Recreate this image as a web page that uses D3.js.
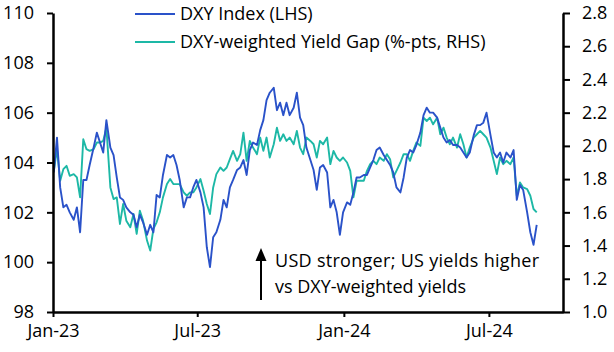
<!DOCTYPE html>
<html>
<head>
<meta charset="utf-8">
<script src="https://cdn.jsdelivr.net/npm/d3@7"></script>
<style>
  body { margin: 0; background: #fff; }
  svg text { font-family: "Open Sans", "Noto Sans", sans-serif; fill: #000; }
</style>
</head>
<body>
<svg width="614" height="352"></svg>
<script>
// observation dates (roughly every 4 days)
const dates = [
  "2023-01-02","2023-01-06","2023-01-10","2023-01-14","2023-01-18","2023-01-22","2023-01-27","2023-01-31",
  "2023-02-04","2023-02-08","2023-02-12","2023-02-16","2023-02-21","2023-02-25","2023-03-01","2023-03-05",
  "2023-03-09","2023-03-14","2023-03-18","2023-03-22","2023-03-26","2023-03-30","2023-04-03","2023-04-08",
  "2023-04-12","2023-04-16","2023-04-20","2023-04-24","2023-04-29","2023-05-03","2023-05-07","2023-05-11",
  "2023-05-15","2023-05-19","2023-05-24","2023-05-28","2023-06-01","2023-06-05","2023-06-09","2023-06-14",
  "2023-06-18","2023-06-22","2023-06-26","2023-06-30","2023-07-05","2023-07-09","2023-07-13","2023-07-17",
  "2023-07-21","2023-07-25","2023-07-30","2023-08-03","2023-08-07","2023-08-11","2023-08-15","2023-08-20",
  "2023-08-24","2023-08-28","2023-09-01","2023-09-05","2023-09-09","2023-09-14","2023-09-18","2023-09-22",
  "2023-09-26","2023-09-30","2023-10-05","2023-10-09","2023-10-13","2023-10-17","2023-10-21","2023-10-25",
  "2023-10-30","2023-11-03","2023-11-07","2023-11-11","2023-11-15","2023-11-20","2023-11-24","2023-11-28",
  "2023-12-02","2023-12-06","2023-12-11","2023-12-15","2023-12-19","2023-12-23","2023-12-27","2023-12-31",
  "2024-01-05","2024-01-09","2024-01-13","2024-01-17","2024-01-21","2024-01-26","2024-01-30","2024-02-03",
  "2024-02-07","2024-02-11","2024-02-15","2024-02-20","2024-02-24","2024-02-28","2024-03-03","2024-03-07",
  "2024-03-12","2024-03-16","2024-03-20","2024-03-24","2024-03-28","2024-04-01","2024-04-06","2024-04-10",
  "2024-04-14","2024-04-18","2024-04-22","2024-04-27","2024-05-01","2024-05-05","2024-05-09","2024-05-13",
  "2024-05-17","2024-05-22","2024-05-26","2024-05-30","2024-06-03","2024-06-07","2024-06-12","2024-06-16",
  "2024-06-20","2024-06-24","2024-06-28","2024-07-03","2024-07-07","2024-07-11","2024-07-15","2024-07-19",
  "2024-07-23","2024-07-28","2024-08-01","2024-08-05","2024-08-09","2024-08-13","2024-08-18","2024-08-22",
  "2024-08-26","2024-08-30"
];

// DXY index (LHS)
const dxy = [
  103.6,105.0,103.0,102.2,102.3,102.0,101.7,102.2,
  101.2,103.3,103.3,103.9,104.6,105.2,104.8,104.4,
  105.7,104.6,104.3,103.4,102.6,102.5,102.2,102.0,
  101.9,101.4,101.9,101.6,101.1,101.5,101.2,102.7,
  102.6,103.5,104.3,104.2,104.3,103.9,103.3,102.2,
  102.6,102.6,103.0,103.3,102.8,102.2,100.6,99.8,
  101.0,101.2,101.7,102.5,102.2,103.0,103.3,103.7,
  103.8,104.1,103.5,104.5,104.8,104.7,105.3,105.7,
  106.5,106.8,107.0,106.1,106.4,105.9,106.4,105.9,
  106.2,106.8,105.8,105.5,104.6,104.1,103.7,102.9,
  103.8,103.9,103.6,102.2,102.5,102.0,101.1,102.0,
  102.4,102.3,102.8,103.4,103.4,103.5,103.5,103.8,
  104.1,104.5,104.6,104.3,104.1,103.9,103.6,103.0,
  102.8,103.4,104.2,104.5,104.4,104.7,105.2,105.9,
  106.2,106.0,106.0,105.8,105.4,105.0,104.8,104.9,
  104.7,104.7,104.6,104.4,104.2,104.4,105.1,105.5,
  105.5,105.6,106.0,105.1,104.4,104.2,104.4,104.0,
  104.4,104.2,104.5,102.5,103.1,102.9,102.0,101.2,
  100.7,101.5
];

// DXY-weighted yield gap, %-pts (RHS)
const yieldGap = [
  1.85,1.98,1.79,1.86,1.88,1.82,1.83,1.81,
  1.69,2.04,1.98,1.97,1.98,2.02,2.02,2.03,
  2.11,1.75,1.68,1.69,1.53,1.65,1.55,1.51,
  1.59,1.47,1.61,1.55,1.43,1.37,1.50,1.54,
  1.60,1.69,1.77,1.80,1.77,1.77,1.77,1.72,
  1.70,1.72,1.72,1.75,1.80,1.73,1.65,1.59,
  1.75,1.83,1.87,1.85,1.87,1.92,1.97,1.91,
  1.95,2.08,1.91,2.03,1.99,1.95,2.05,1.97,
  2.05,1.93,2.01,2.11,2.03,2.07,2.03,2.05,
  2.01,2.09,1.99,1.95,2.05,2.03,2.01,1.93,
  2.03,2.01,2.05,1.89,1.97,1.93,1.91,1.93,
  1.90,1.85,1.69,1.79,1.79,1.79,1.85,1.89,
  1.91,1.89,1.93,1.91,1.95,1.92,1.81,1.85,
  1.90,1.95,1.95,1.91,1.97,2.02,2.00,2.17,
  2.15,2.17,2.13,2.17,2.07,2.11,2.05,2.01,
  2.05,1.99,2.07,2.01,1.93,1.99,2.05,2.07,
  2.09,2.07,2.05,1.99,1.91,1.83,1.93,1.89,
  1.91,1.89,1.93,1.70,1.78,1.75,1.74,1.70,
  1.62,1.60
];

const leftTicks = [98, 100, 102, 104, 106, 108, 110];
const rightTicks = [1.0, 1.2, 1.4, 1.6, 1.8, 2.0, 2.2, 2.4, 2.6, 2.8];
const xTicks = ["2023-01-01", "2023-07-01", "2024-01-01", "2024-07-01"];
const seriesNames = ["DXY Index (LHS)", "DXY-weighted Yield Gap (%-pts, RHS)"];
const note = ["USD stronger; US yields higher", "vs DXY-weighted yields"];

const blue = "#2a52c9";
const teal = "#1db8a6";

const parse = d3.timeParse("%Y-%m-%d");
const svg = d3.select("svg");

const x = d3.scaleTime()
  .domain([parse("2023-01-01"), parse("2024-10-02")])
  .range([53, 563]);
const yL = d3.scaleLinear().domain([98, 110]).range([312, 13]);
const yR = d3.scaleLinear().domain([1.0, 2.8]).range([312, 13]);

const rows = dates.map((d, i) => ({ date: parse(d), dxy: dxy[i], gap: yieldGap[i] }));

// lines: teal first, blue on top
svg.append("path")
  .datum(rows)
  .attr("fill", "none")
  .attr("stroke", teal)
  .attr("stroke-width", 1.9)
  .attr("stroke-linejoin", "round")
  .attr("d", d3.line().x(d => x(d.date)).y(d => yR(d.gap)));

svg.append("path")
  .datum(rows)
  .attr("fill", "none")
  .attr("stroke", blue)
  .attr("stroke-width", 1.9)
  .attr("stroke-linejoin", "round")
  .attr("d", d3.line().x(d => x(d.date)).y(d => yL(d.dxy)));

// axes
const fs = "18px";

const xAxis = svg.append("g")
  .attr("transform", "translate(0,312)")
  .call(d3.axisBottom(x)
    .tickValues(xTicks.map(parse))
    .tickFormat(d3.timeFormat("%b-%y"))
    .tickSize(5).tickSizeOuter(0).tickPadding(7));

const leftAxis = svg.append("g")
  .attr("transform", "translate(53,0)")
  .call(d3.axisLeft(yL).tickValues(leftTicks).tickSize(6).tickSizeOuter(0).tickPadding(13));

const rightAxis = svg.append("g")
  .attr("transform", "translate(563,0)")
  .call(d3.axisRight(yR).tickValues(rightTicks).tickFormat(d3.format(".1f"))
    .tickSize(7).tickSizeOuter(0).tickPadding(12));

[xAxis, leftAxis, rightAxis].forEach(g => {
  g.select(".domain").attr("stroke", "#000").attr("stroke-width", 2.5);
  g.selectAll(".tick line").attr("stroke", "#000").attr("stroke-width", 2);
  g.selectAll(".tick text").attr("font-size", fs).attr("font-family", null);
});

// legend
const legend = svg.append("g");
[blue, teal].forEach((c, i) => {
  const ly = 14 + i * 28;
  legend.append("line")
    .attr("x1", 135).attr("x2", 175).attr("y1", ly).attr("y2", ly)
    .attr("stroke", c).attr("stroke-width", 2);
  legend.append("text")
    .attr("x", 180).attr("y", ly).attr("dy", "0.35em")
    .attr("font-size", fs)
    .text(seriesNames[i]);
});

// annotation arrow
svg.append("line")
  .attr("x1", 261).attr("x2", 261).attr("y1", 300).attr("y2", 258)
  .attr("stroke", "#000").attr("stroke-width", 2);
svg.append("path")
  .attr("d", "M261,248 L266.5,261 L255.5,261 Z")
  .attr("fill", "#000");

note.forEach((t, i) => {
  svg.append("text")
    .attr("x", 275).attr("y", 261 + i * 26).attr("dy", "0.35em")
    .attr("font-size", fs)
    .attr("textLength", i === 0 ? 264 : null)
    .text(t);
});
</script>
</body>
</html>
